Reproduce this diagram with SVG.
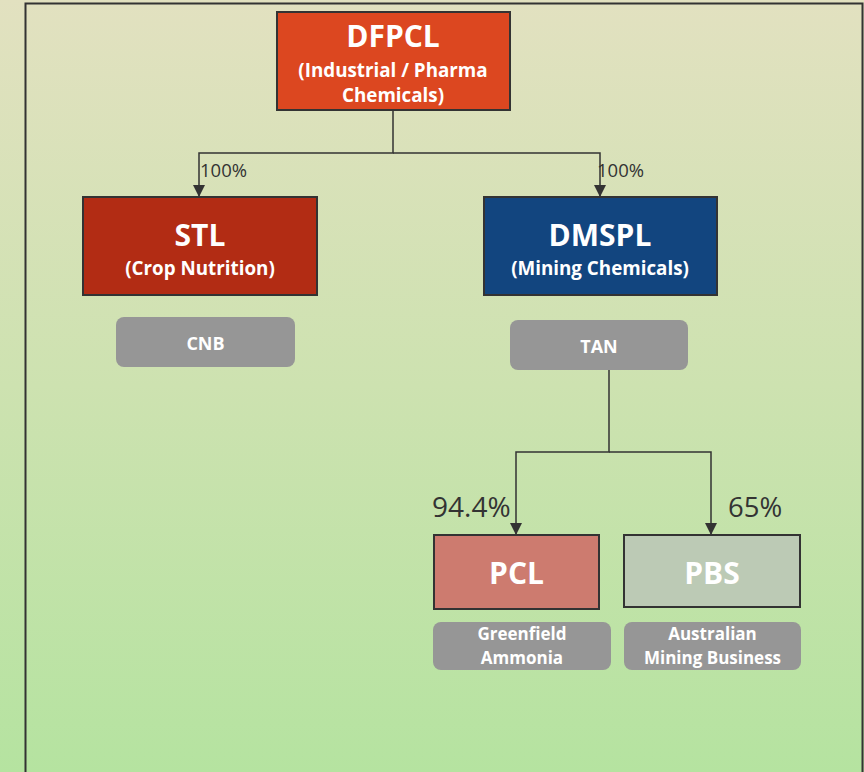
<svg xmlns="http://www.w3.org/2000/svg" width="864" height="772" viewBox="0 0 864 772">
<defs>
<linearGradient id="bg" x1="0" y1="0" x2="0" y2="1">
<stop offset="0" stop-color="#e2e1c0"/>
<stop offset="0.5" stop-color="#cde2b0"/>
<stop offset="1" stop-color="#b5e3a0"/>
</linearGradient>
<marker id="arr" viewBox="0 0 12 12" refX="12" refY="6" markerWidth="12" markerHeight="12" markerUnits="userSpaceOnUse" orient="auto">
<path d="M0,0 L12,6 L0,12 z" fill="#333"/>
</marker>
<style>
.box{stroke:#333;stroke-width:2}
.pill{fill:#969696}
.t{font-family:"Open Sans","Liberation Sans",sans-serif;font-weight:bold;fill:#fff;text-anchor:middle}
.big{font-size:30px}
.sub{font-size:18.8px}
.lbl{font-size:18px}
.sm{font-size:17px}
.pct{font-family:"Open Sans","Liberation Sans",sans-serif;fill:#333}
.ln{fill:none;stroke:#333;stroke-width:1.5}
</style>
</defs>
<rect x="0" y="0" width="864" height="772" fill="url(#bg)"/>
<rect x="25.5" y="3.5" width="837" height="780" fill="none" stroke="#333" stroke-width="2"/>
<g id="connectors">
<path class="ln" d="M393,110 V153 H199 V197" marker-end="url(#arr)"/>
<path class="ln" d="M393,153 H600 V197" marker-end="url(#arr)"/>
<path class="ln" d="M609,370 V452 H516 V535" marker-end="url(#arr)"/>
<path class="ln" d="M609,452 H711 V535" marker-end="url(#arr)"/>
<text class="pct" x="200" y="177" font-size="18.5">100%</text>
<text class="pct" x="597" y="177" font-size="18.5">100%</text>
<text class="pct" x="432" y="517" font-size="28">94.4%</text>
<text class="pct" x="728" y="517" font-size="27.5">65%</text>
</g>
<g id="dfpcl">
<rect class="box" x="277" y="12" width="233" height="98" fill="#dc4720"/>
<text class="t big" x="393" y="47">DFPCL</text>
<text class="t sub" x="393" y="77">(Industrial / Pharma</text>
<text class="t sub" x="393" y="102">Chemicals)</text>
</g>
<g id="stl">
<rect class="box" x="83" y="197" width="234" height="98" fill="#b22c14"/>
<text class="t big" x="200" y="246">STL</text>
<text class="t sub" x="200" y="275">(Crop Nutrition)</text>
</g>
<g id="dmspl">
<rect class="box" x="484" y="197" width="233" height="98" fill="#12457f"/>
<text class="t big" x="600" y="246">DMSPL</text>
<text class="t sub" x="600" y="275">(Mining Chemicals)</text>
</g>
<g id="cnb">
<rect class="pill" x="116" y="317" width="179" height="50" rx="8"/>
<text class="t lbl" x="205.5" y="350">CNB</text>
</g>
<g id="tan">
<rect class="pill" x="510" y="320" width="178" height="50" rx="8"/>
<text class="t lbl" x="599" y="353">TAN</text>
</g>
<g id="pcl">
<rect class="box" x="434" y="535" width="165" height="74" fill="#cd7b6f"/>
<text class="t big" x="516.5" y="584">PCL</text>
</g>
<g id="pbs">
<rect class="box" x="624" y="535" width="176" height="72" fill="#bccab5"/>
<text class="t big" x="712" y="584">PBS</text>
</g>
<g id="greenfield">
<rect class="pill" x="433" y="622" width="178" height="48" rx="8"/>
<text class="t sm" x="522" y="640">Greenfield</text>
<text class="t sm" x="522" y="664">Ammonia</text>
</g>
<g id="australian">
<rect class="pill" x="624" y="622" width="177" height="48" rx="8"/>
<text class="t sm" x="712.5" y="640">Australian</text>
<text class="t sm" x="712.5" y="664">Mining Business</text>
</g>
</svg>
